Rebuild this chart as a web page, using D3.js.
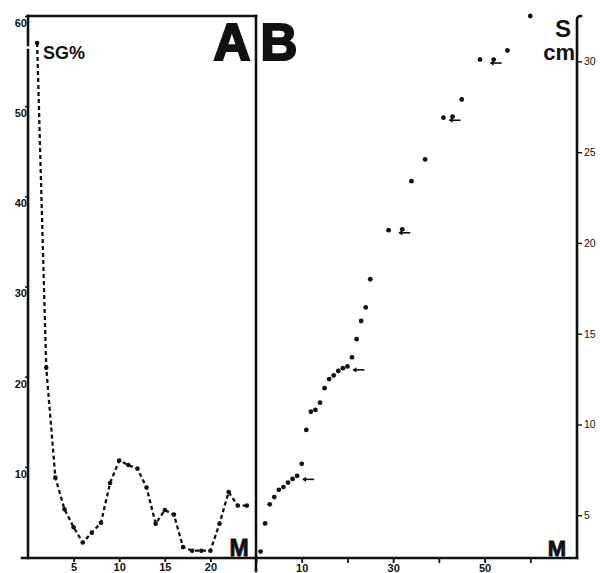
<!DOCTYPE html>
<html>
<head>
<meta charset="utf-8">
<script src="https://cdn.jsdelivr.net/npm/d3@7"></script>
<style>
  html, body { margin: 0; padding: 0; background: #fff; }
  svg { display: block; }
  text { font-family: "Liberation Sans", Arial, sans-serif; fill: #111; }
</style>
</head>
<body>
<svg id="chart" width="600" height="573"></svg>
<script>
// Panel A: specific growth (SG%) by month
const monthsA = [1, 2, 3, 4, 5, 6, 7, 8, 9, 10, 11, 12, 13, 14, 15, 16, 17, 18, 19, 20, 21, 22, 23, 24];
const sgPct   = [57, 21, 8.8, 5.3, 3.3, 1.6, 2.7, 3.8, 8.2, 10.7, 10.2, 9.8, 7.7, 3.7, 5.2, 4.7, 1.1, 0.7, 0.7, 0.7, 3.7, 7.2, 5.7, 5.7];

// Panel B: size S (cm) by month
const monthsB = [1, 2, 3, 4, 5, 6, 7, 8, 9, 10, 11, 12, 13, 14, 15, 16, 17, 18, 19, 20, 21, 22, 23, 24, 25,
                 29, 32, 34, 37, 41, 43, 45, 49, 52, 55, 60];
const sizeCm  = [3.0, 4.55, 5.6, 6.0, 6.4, 6.55, 6.8, 7.0, 7.17, 7.83, 9.7, 10.7, 10.8, 11.2, 12.0, 12.5, 12.7, 12.95, 13.1, 13.2, 13.7, 14.7, 15.7, 16.45, 18.0,
                 20.7, 20.75, 23.4, 24.6, 26.9, 26.95, 27.9, 30.1, 30.1, 30.6, 32.5];
// months flagged with an arrow
const arrowMonths = [9, 20, 32, 43, 52];

// tick values
const ticksAy = [10, 20, 30, 40, 50, 60];
const ticksAx = [5, 10, 15, 20];
const ticksBy = [5, 10, 15, 20, 25, 30];
const ticksBx = [0, 10, 20, 30, 40, 50, 60];
const labelsBx = [10, 30, 50];

const svg = d3.select("#chart");
const ink = "#111";

// scales
const yTop = 16, base = 558;
const xA = d3.scaleLinear().domain([0, 25]).range([28, 256]);
const yA = d3.scaleLinear().domain([0, 60]).range([557, 16]);
const xB = d3.scaleLinear().domain([0, 70]).range([256, 576]);
const yB = d3.scaleLinear().domain([2.7, 32.5]).range([557, 16]);

// frame lines
const frame = svg.append("g").attr("stroke", ink).attr("stroke-width", 2.6).attr("fill", "none")
  .attr("stroke-linecap", "square");
frame.append("line").attr("x1", 28).attr("y1", yTop).attr("x2", 256).attr("y2", yTop);
frame.append("line").attr("x1", 28).attr("y1", yTop).attr("x2", 28).attr("y2", 45);
frame.append("line").attr("x1", 28).attr("y1", 50).attr("x2", 28).attr("y2", base);
frame.append("line").attr("x1", 22).attr("y1", base).attr("x2", 577).attr("y2", base);
frame.append("line").attr("x1", 256).attr("y1", yTop).attr("x2", 256).attr("y2", 571);
frame.append("path").attr("d", `M577,${base} L577,20 Q577,16 581,16`);

// axes of panel A
const axAy = svg.append("g").attr("transform", "translate(28,0)")
  .call(d3.axisLeft(yA).tickValues(ticksAy).tickSize(3).tickFormat(d3.format("d")));
axAy.select(".domain").remove();
axAy.selectAll("line").attr("stroke", ink).attr("stroke-width", 1.5);
axAy.selectAll("text").attr("x", -1).attr("dy", "0.95em")
  .style("font-size", "11px").style("font-weight", "bold").style("font-family", "Liberation Sans");

const axAx = svg.append("g").attr("transform", `translate(0,${base})`)
  .call(d3.axisBottom(xA).tickValues(ticksAx).tickSize(4).tickFormat(d3.format("d")));
axAx.select(".domain").remove();
axAx.selectAll("line").attr("stroke", ink).attr("stroke-width", 1.8);
axAx.selectAll("text").attr("y", 5)
  .style("font-size", "11px").style("font-weight", "bold").style("font-family", "Liberation Sans");

// axes of panel B
const axBy = svg.append("g").attr("transform", "translate(577,0)")
  .call(d3.axisRight(yB).tickValues(ticksBy).tickSize(5).tickPadding(2).tickFormat(d3.format("d")));
axBy.select(".domain").remove();
axBy.selectAll("line").attr("stroke", ink).attr("stroke-width", 1.4);
axBy.selectAll("text")
  .style("font-size", "10.5px").style("font-family", "Liberation Sans");

const axBx = svg.append("g").attr("transform", `translate(0,${base})`)
  .call(d3.axisBottom(xB).tickValues(ticksBx).tickSize(5)
    .tickFormat(d => labelsBx.includes(d) ? d3.format("d")(d) : ""));
axBx.select(".domain").remove();
axBx.selectAll("line").attr("stroke", ink).attr("stroke-width", 1.8);
axBx.selectAll("text").attr("y", 6)
  .style("font-size", "11px").style("font-weight", "bold").style("font-family", "Liberation Sans");

// panel A: dashed growth curve with dots
const dataA = monthsA.map((m, i) => ({ m, v: sgPct[i] }));
svg.append("path")
  .datum(dataA)
  .attr("fill", "none").attr("stroke", ink).attr("stroke-width", 2.3)
  .attr("stroke-dasharray", "4,3")
  .attr("d", d3.line().x(d => xA(d.m)).y(d => yA(d.v)));
svg.append("g").selectAll("circle").data(dataA).join("circle")
  .attr("cx", d => xA(d.m)).attr("cy", d => yA(d.v)).attr("r", 2.3).attr("fill", ink);

// panel B: size dots
const dataB = monthsB.map((m, i) => ({ m, v: sizeCm[i] }));
svg.append("g").selectAll("circle").data(dataB).join("circle")
  .attr("cx", d => xB(d.m)).attr("cy", d => yB(d.v)).attr("r", 2.4).attr("fill", ink);

// arrows beside flagged points
const arrowData = dataB.filter(d => arrowMonths.includes(d.m));
const arrows = svg.append("g").attr("stroke", ink).attr("fill", ink);
arrows.selectAll("g").data(arrowData).join("g")
  .attr("transform", d => {
    const tip = d.m < 30 ? 5 : -4;
    return `translate(${xB(d.m) + tip},${yB(d.v) + 3.5})`;
  })
  .each(function () {
    const g = d3.select(this);
    g.append("line").attr("x1", 1).attr("y1", 0).attr("x2", 12).attr("y2", 0).attr("stroke-width", 1.6);
    g.append("path").attr("d", "M0,0 L4,-2.6 L4,2.6 Z").attr("stroke", "none");
  });

// lettering
const bold = sel => sel.style("font-weight", "bold").style("font-family", "Liberation Sans");
svg.append("text").attr("x", 43).attr("y", 59).text("SG%").call(bold).style("font-size", "18px");
svg.append("text").attr("x", 232).attr("y", 59.5).attr("text-anchor", "middle").text("A").call(bold)
  .style("font-size", "51px").attr("stroke", ink).attr("stroke-width", 2.2);
svg.append("text").attr("x", 279).attr("y", 59.5).attr("text-anchor", "middle").text("B").call(bold)
  .style("font-size", "51px").attr("stroke", ink).attr("stroke-width", 2.2);
svg.append("text").attr("x", 239).attr("y", 556).attr("text-anchor", "middle").text("M").call(bold)
  .style("font-size", "23px").attr("stroke", ink).attr("stroke-width", 0.8);
svg.append("text").attr("x", 557).attr("y", 556).attr("text-anchor", "middle").text("M").call(bold)
  .style("font-size", "22px").attr("stroke", ink).attr("stroke-width", 0.8);
svg.append("text").attr("x", 563).attr("y", 37).attr("text-anchor", "middle").text("S").call(bold)
  .style("font-size", "24px");
svg.append("text").attr("x", 575).attr("y", 60).attr("text-anchor", "end").text("cm").call(bold)
  .style("font-size", "22px");
</script>
</body>
</html>
